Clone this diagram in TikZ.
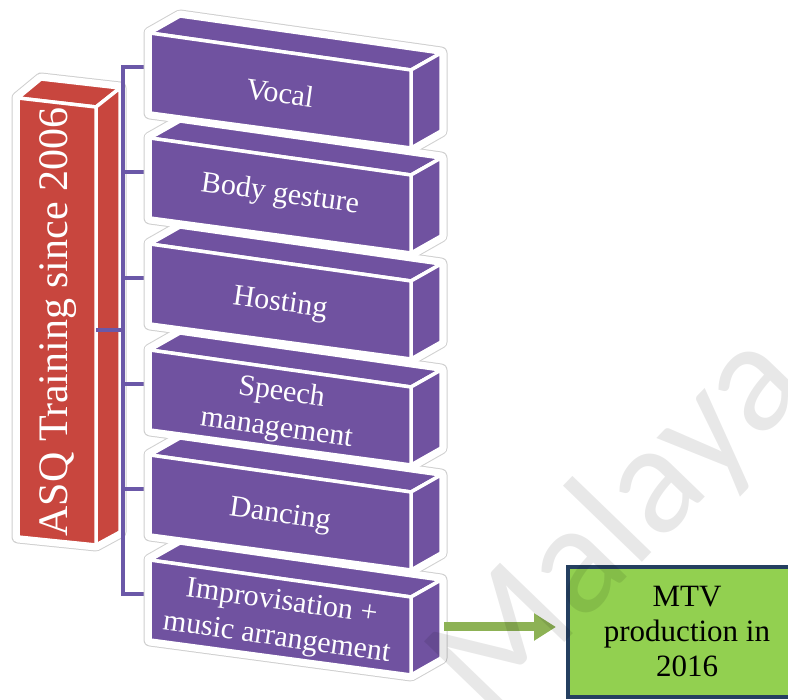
\documentclass[tikz,border=0pt]{standalone}
\usepackage{fontspec}
\setmainfont{Liberation Serif}
\newfontfamily\wmfont{Carlito}
\usetikzlibrary{arrows.meta}

\definecolor{boxpurple}{HTML}{7052A0}
\definecolor{busline}{HTML}{6B58A8}
\definecolor{boxred}{HTML}{C8463E}
\definecolor{haloline}{HTML}{CFCFCF}
\definecolor{mtvgreen}{HTML}{92D050}
\definecolor{mtvborder}{HTML}{243F60}
\definecolor{arrowgreen}{HTML}{8DB255}

\tikzset{
  face/.style={draw=white, line width=3.5pt, line join=round},
  haloedge/.style={draw=haloline, line width=13pt, line join=round},
  halofill/.style={draw=white, fill=white, line width=11pt, line join=round},
  conn/.style={draw=busline, line width=3.5pt, line join=miter},
  boxlabel/.style={text=white, align=center, inner sep=0pt,
    font=\fontsize{30}{36}\selectfont},
}

% corner points of one purple block; #1 = name, #2 = top of its front face
\newcommand\blockpoints[2]{%
  \coordinate (#1-ftl) at (150,#2);
  \coordinate (#1-ftr) at (411,#2+37);
  \coordinate (#1-fbr) at (411,#2+115);
  \coordinate (#1-fbl) at (150,#2+80);
  \coordinate (#1-btl) at (180,#2-17);
  \coordinate (#1-btr) at (441,#2+20);
  \coordinate (#1-bbr) at (441,#2+98);
  \coordinate (#1-in)  at (150,#2+34);
}
\newcommand\blockoutline[2]{%
  \draw[#2] (#1-ftl) -- (#1-btl) -- (#1-btr) -- (#1-bbr) -- (#1-fbr) -- (#1-fbl) -- cycle;
}
\newcommand\blockfaces[2]{%
  \filldraw[face, fill=#2] (#1-ftl) -- (#1-btl) -- (#1-btr) -- (#1-ftr) -- cycle;
  \filldraw[face, fill=#2] (#1-ftr) -- (#1-btr) -- (#1-bbr) -- (#1-fbr) -- cycle;
  \filldraw[face, fill=#2] (#1-ftl) -- (#1-ftr) -- (#1-fbr) -- (#1-fbl) -- cycle;
}

\begin{document}
\begin{tikzpicture}[x=1pt, y=-1pt]
\useasboundingbox (0,0) rectangle (788,700);
\clip (0,0) rectangle (788,700);

% ---- red column ----
\coordinate (asq-ftl) at (18,98);
\coordinate (asq-ftr) at (96,107);
\coordinate (asq-fbr) at (96,545);
\coordinate (asq-fbl) at (18,537);
\coordinate (asq-btl) at (41,79);
\coordinate (asq-btr) at (120,88);
\coordinate (asq-bbr) at (120,532);
\coordinate (asq-out) at (96,330);
\blockoutline{asq}{haloedge}
\blockoutline{asq}{halofill}
\blockfaces{asq}{boxred}
\node[boxlabel, rotate=90, font=\fontsize{42}{50}\selectfont] (asqtext) at (58,322)
  {ASQ Training since 2006};

% ---- purple blocks ----
\blockpoints{b1}{33}
\blockpoints{b2}{138}
\blockpoints{b3}{244}
\blockpoints{b4}{350}
\blockpoints{b5}{455}
\blockpoints{b6}{560}

% ---- bracket connector ----
\coordinate (bus-top) at (123,67);
\coordinate (bus-bot) at (123,594);
\draw[conn] (b1-in) -- (bus-top) -- (bus-bot) -- (b6-in);
\draw[conn] (asq-out) -- (asq-out -| bus-top);
\foreach \b in {b2,b3,b4,b5} {
  \draw[conn] (\b-in -| bus-top) -- (\b-in);
}

\foreach \b in {b6,b5,b4,b3,b2,b1} { \blockoutline{\b}{haloedge} }
\foreach \b in {b6,b5,b4,b3,b2,b1} { \blockoutline{\b}{halofill} }
\foreach \b in {b6,b5,b4,b3,b2,b1} { \blockfaces{\b}{boxpurple} }

\node[boxlabel, rotate=-8] (t1) at (280,93) {Vocal};
\node[boxlabel, rotate=-8] (t2) at (280,195) {Body gesture};
\node[boxlabel, rotate=-8] (t3) at (280,304) {Hosting};
\node[boxlabel, rotate=-8] (t4) at (279,411) {Speech\\management};
\node[boxlabel, rotate=-8] (t5) at (280,516) {Dancing};
\node[boxlabel, rotate=-8] (t6) at (279,621) {Improvisation +\\music arrangement};

% ---- outcome box and arrow ----
\node[draw=mtvborder, line width=4pt, fill=mtvgreen, minimum width=238pt,
      minimum height=130pt, align=center, inner sep=0pt,
      font=\fontsize{31}{35}\selectfont] (mtv) at (687,632)
  {MTV\\production in\\2016};
\coordinate (b6-out) at (444,627);
\draw[arrowgreen, line width=9pt, -{Triangle[width=26pt,length=22pt]},
      shorten >=10pt] (b6-out) -- (b6-out -| mtv.west);

% ---- faint watermark ----
\node[rotate=46, anchor=base west, inner sep=0pt, text=black, text opacity=0.09,
      font=\wmfont\fontsize{158}{158}\selectfont] (wm) at (488,722) {Malaya};
\end{tikzpicture}
\end{document}
